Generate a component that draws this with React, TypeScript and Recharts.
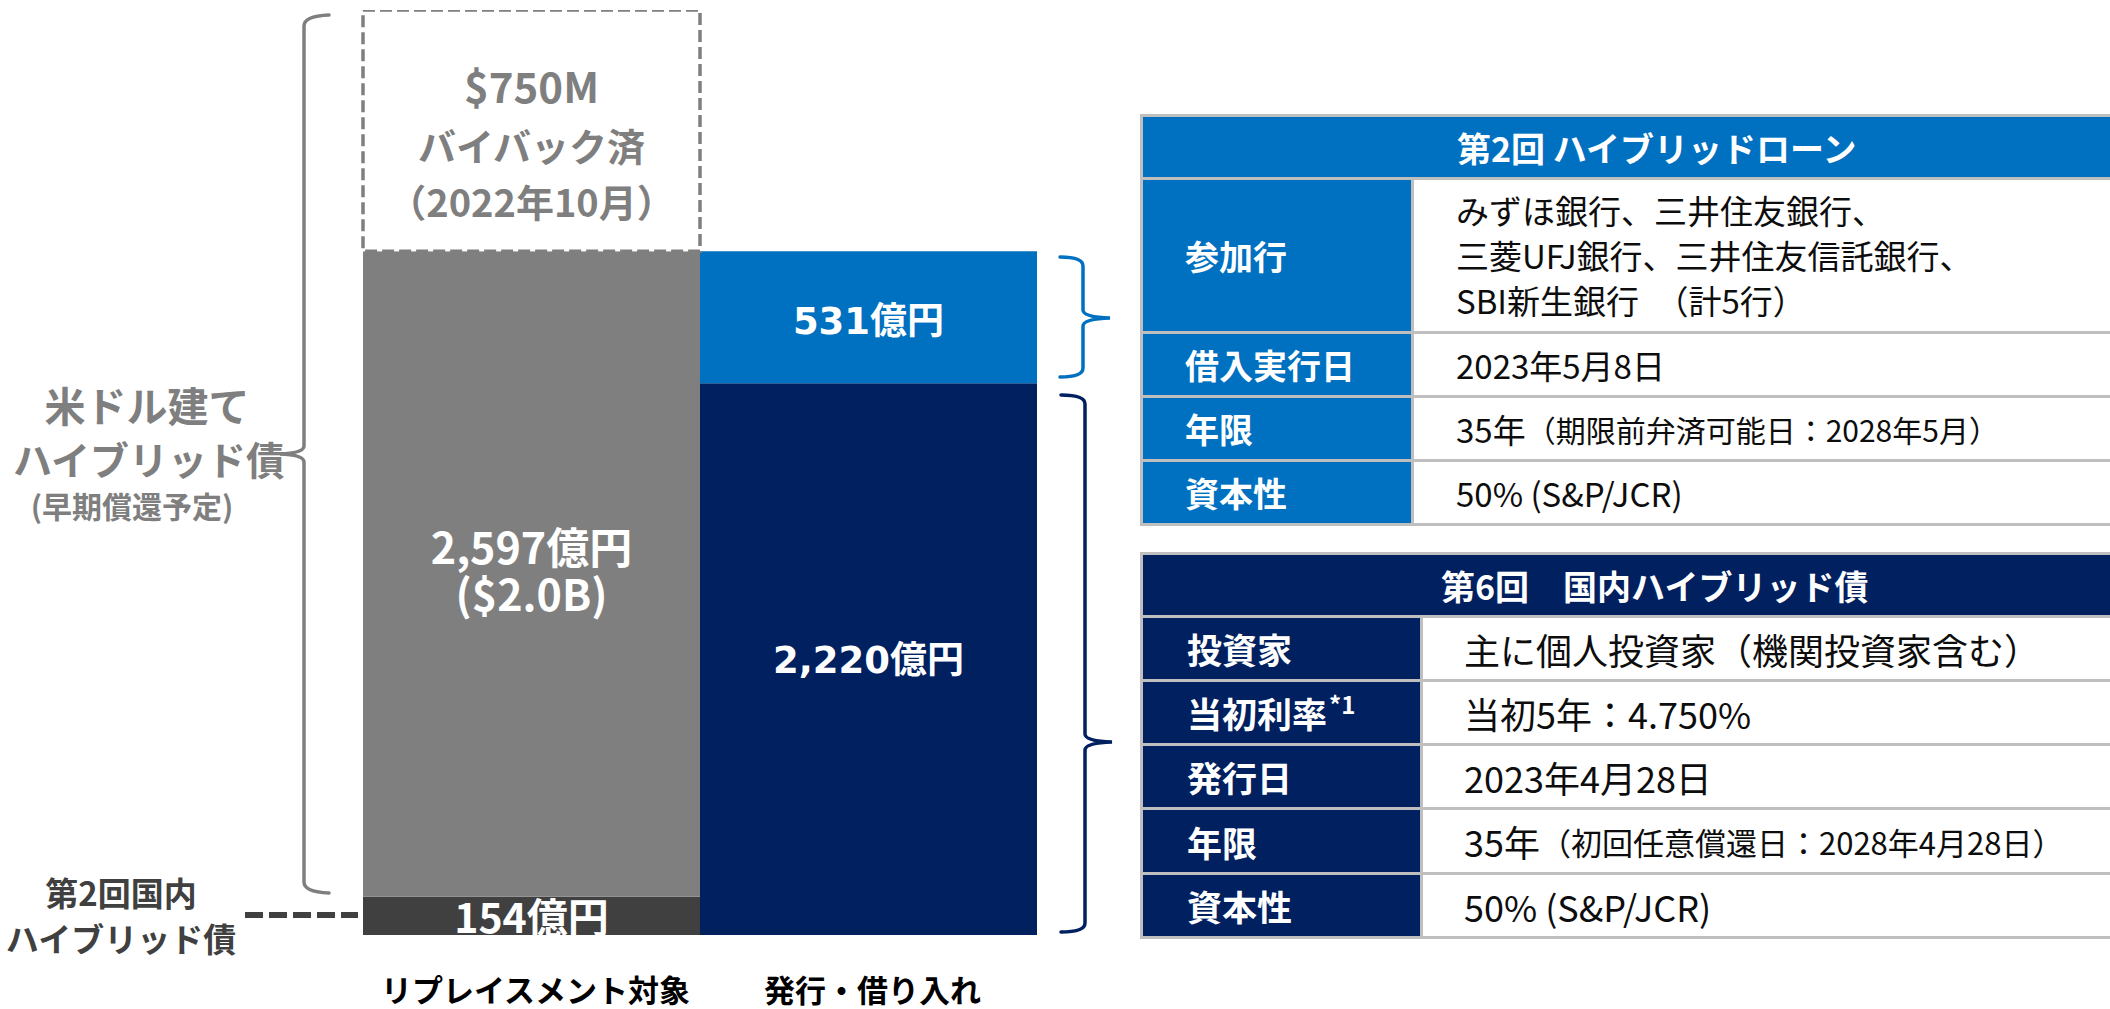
import React from 'react';
import { BarChart, Bar, XAxis, YAxis, Cell, LabelList } from 'recharts';

// ---------- chart data ----------
const categories = ['リプレイスメント対象', '発行・借り入れ'];
const bottomValues = [154, 2220];
const middleValues = [2597, 531];
const topValues = [970, 0];
const bottomLabels = [['154億円'], ['2,220億円']];
const middleLabels = [['2,597億円', '($2.0B)'], ['531億円']];
const topLabels = [['$750M', 'バイバック済', '（2022年10月）'], []];

const data = categories.map((c, i) => ({
  category: c,
  bottom: bottomValues[i],
  middle: middleValues[i],
  top: topValues[i],
}));

// ---------- styles ----------
const JP = "'Noto Sans CJK JP', 'Noto Sans', sans-serif";
const VERD = "'DejaVu Sans', 'Noto Sans CJK JP', sans-serif";
const GRAY = '#7f7f7f';
const DARK = '#404040';
const NAVY = '#002060';
const BLUE = '#0070c0';
const GRID = '#bfbfbf';

const bottomFills = [DARK, NAVY];
const middleFills = [GRAY, BLUE];

type LabelStyle = { fill: string; font: string; sizes: number[]; offsets: number[] };
const bottomStyles: LabelStyle[] = [
  { fill: '#fff', font: JP, sizes: [41], offsets: [-1] },
  { fill: '#fff', font: VERD, sizes: [37], offsets: [1] },
];
const middleStyles: LabelStyle[] = [
  { fill: '#fff', font: JP, sizes: [43, 43], offsets: [-29, 18] },
  { fill: '#fff', font: VERD, sizes: [37], offsets: [4] },
];
const topStyles: LabelStyle[] = [
  { fill: GRAY, font: JP, sizes: [42, 38, 38], offsets: [-47, 13, 69] },
  { fill: GRAY, font: JP, sizes: [], offsets: [] },
];

const makeLabel = (lines: string[][], styles: LabelStyle[]) => (props: any) => {
  const { x, y, width, height, index } = props;
  const ls = lines[index] || [];
  const st = styles[index];
  if (!ls.length) return null;
  const cx = Number(x) + Number(width) / 2;
  const cy = Number(y) + Number(height) / 2;
  return (
    <text
      textAnchor="middle"
      dominantBaseline="central"
      fill={st.fill}
      fontFamily={st.font}
      fontWeight="bold"
    >
      {ls.map((t, k) => (
        <tspan key={k} x={cx} y={cy + st.offsets[k]} fontSize={st.sizes[k]}>
          {t}
        </tspan>
      ))}
    </text>
  );
};

const CategoryTick = (props: any) => {
  const { x, y, payload } = props;
  return (
    <text
      x={x + 4}
      y={y + 45}
      textAnchor="middle"
      dominantBaseline="central"
      fill="#000"
      fontFamily={JP}
      fontWeight="bold"
      fontSize={31}
    >
      {payload.value}
    </text>
  );
};

// ---------- tables ----------
const cellLeft: React.CSSProperties = {
  color: '#fff',
  fontWeight: 'bold',
  display: 'flex',
  alignItems: 'center',
  whiteSpace: 'nowrap',
};
const cellRight: React.CSSProperties = {
  background: '#fff',
  color: '#0d0d0d',
  display: 'flex',
  alignItems: 'center',
  whiteSpace: 'nowrap',
};

function LoanTable() {
  const bg = BLUE;
  const L = { ...cellLeft, background: bg, paddingLeft: 42, fontSize: 34 };
  const R = { ...cellRight, paddingLeft: 42, fontSize: 33 };
  return (
    <div
      style={{
        position: 'absolute',
        left: 1140,
        top: 114,
        width: 1020,
        background: GRID,
        padding: 3,
        boxSizing: 'border-box',
        display: 'grid',
        gridTemplateColumns: '268px 1fr',
        gridTemplateRows: '60px 151px 61px 61px 61px',
        gap: 3,
        fontFamily: JP,
      }}
    >
      <div
        style={{
          gridColumn: '1 / 3',
          background: bg,
          color: '#fff',
          fontWeight: 'bold',
          fontSize: 34,
          display: 'flex',
          alignItems: 'center',
          paddingLeft: 314,
          whiteSpace: 'pre',
        }}
      >
        第2回 ハイブリッドローン
      </div>
      <div style={L}>参加行</div>
      <div style={{ ...R, flexDirection: 'column', alignItems: 'flex-start', justifyContent: 'center', lineHeight: '45px' }}>
        <div>みずほ銀行、三井住友銀行、</div>
        <div>三菱UFJ銀行、三井住友信託銀行、</div>
        <div style={{ whiteSpace: 'pre' }}>SBI新生銀行　（計5行）</div>
      </div>
      <div style={L}>借入実行日</div>
      <div style={R}>2023年5月8日</div>
      <div style={L}>年限</div>
      <div style={R}>
        35年<span style={{ fontSize: 30 }}>（期限前弁済可能日：2028年5月）</span>
      </div>
      <div style={L}>資本性</div>
      <div style={R}>50% (S&amp;P/JCR)</div>
    </div>
  );
}

function BondTable() {
  const bg = NAVY;
  const L = { ...cellLeft, background: bg, paddingLeft: 44, fontSize: 35 };
  const R = { ...cellRight, paddingLeft: 41, fontSize: 36 };
  return (
    <div
      style={{
        position: 'absolute',
        left: 1140,
        top: 552,
        width: 1020,
        background: GRID,
        padding: 3,
        boxSizing: 'border-box',
        display: 'grid',
        gridTemplateColumns: '277px 1fr',
        gridTemplateRows: '60px 61px 61px 61px 62px 61px',
        gap: 3,
        fontFamily: JP,
      }}
    >
      <div
        style={{
          gridColumn: '1 / 3',
          background: bg,
          color: '#fff',
          fontWeight: 'bold',
          fontSize: 34,
          display: 'flex',
          alignItems: 'center',
          paddingLeft: 298,
          whiteSpace: 'pre',
        }}
      >
        第6回　国内ハイブリッド債
      </div>
      <div style={L}>投資家</div>
      <div style={R}>主に個人投資家（機関投資家含む）</div>
      <div style={L}>
        当初利率<span style={{ fontSize: 24, fontWeight: 'bold', position: 'relative', top: -9, marginLeft: 2 }}>*1</span>
      </div>
      <div style={R}>当初5年：4.750%</div>
      <div style={L}>発行日</div>
      <div style={R}>2023年4月28日</div>
      <div style={L}>年限</div>
      <div style={R}>
        35年<span style={{ fontSize: 31 }}>（初回任意償還日：2028年4月28日）</span>
      </div>
      <div style={L}>資本性</div>
      <div style={R}>50% (S&amp;P/JCR)</div>
    </div>
  );
}

function Overlay() {
  const txt = (x: number, y: number, s: string, size: number, fill: string, key: string) => (
    <text
      key={key}
      x={x}
      y={y}
      textAnchor="middle"
      dominantBaseline="central"
      fontFamily={JP}
      fontWeight="bold"
      fontSize={size}
      fill={fill}
    >
      {s}
    </text>
  );
  return (
    <svg
      width={2110}
      height={1009}
      style={{ position: 'absolute', left: 0, top: 0, pointerEvents: 'none' }}
    >
      {txt(147, 404, '米ドル建て', 41, GRAY, 'a')}
      {txt(149, 458, 'ハイブリッド債', 39, GRAY, 'b')}
      {txt(132, 505, '(早期償還予定)', 30, GRAY, 'c')}
      {txt(121, 892, '第2回国内', 33, DARK, 'd')}
      {txt(121, 938, 'ハイブリッド債', 33, DARK, 'e')}
      <line x1={245} y1={915} x2={358} y2={915} stroke={DARK} strokeWidth={6} strokeDasharray="18 6" />
      <path
        d="M 329 15 Q 304 16 304 26 L 304 446 Q 304 453 280 454 Q 304 455 304 462 L 304 882 Q 304 892 329 893"
        fill="none"
        stroke={GRAY}
        strokeWidth={3.5}
        strokeLinecap="round"
      />
      <path
        d="M 1060 257 Q 1083 257 1083 266 L 1083 310 Q 1083 317 1110 318 Q 1083 319 1083 326 L 1083 368 Q 1083 377 1060 377"
        fill="none"
        stroke={BLUE}
        strokeWidth={3.5}
        strokeLinecap="round"
      />
      <path
        d="M 1061 395 Q 1085 395 1085 404 L 1085 734 Q 1085 741 1112 742 Q 1085 743 1085 750 L 1085 923 Q 1085 932 1061 932"
        fill="none"
        stroke={NAVY}
        strokeWidth={3.5}
        strokeLinecap="round"
      />
    </svg>
  );
}

export default function App() {
  return (
    <div
      style={{
        position: 'absolute',
        left: 0,
        top: 0,
        width: 2110,
        height: 1009,
        overflow: 'hidden',
        background: '#fff',
      }}
    >
      <BarChart
        width={1040}
        height={1009}
        data={data}
        margin={{ top: 10, right: 3, bottom: 0, left: 363 }}
        barCategoryGap={0}
        barGap={0}
      >
        <XAxis
          dataKey="category"
          axisLine={false}
          tickLine={false}
          height={74}
          interval={0}
          tick={<CategoryTick />}
        />
        <YAxis hide domain={[0, 3721]} allowDataOverflow />
        <Bar dataKey="bottom" stackId="s" isAnimationActive={false}>
          {data.map((d, i) => (
            <Cell key={i} fill={bottomFills[i]} />
          ))}
          <LabelList dataKey="bottom" content={makeLabel(bottomLabels, bottomStyles)} />
        </Bar>
        <Bar dataKey="middle" stackId="s" isAnimationActive={false}>
          {data.map((d, i) => (
            <Cell key={i} fill={middleFills[i]} />
          ))}
          <LabelList dataKey="middle" content={makeLabel(middleLabels, middleStyles)} />
        </Bar>
        <Bar dataKey="top" stackId="s" isAnimationActive={false}>
          {data.map((d, i) => (
            <Cell key={i} fill="#fff" stroke={GRAY} strokeWidth={3.5} strokeDasharray="12 5" />
          ))}
          <LabelList dataKey="top" content={makeLabel(topLabels, topStyles)} />
        </Bar>
      </BarChart>
      <LoanTable />
      <BondTable />
      <Overlay />
    </div>
  );
}
